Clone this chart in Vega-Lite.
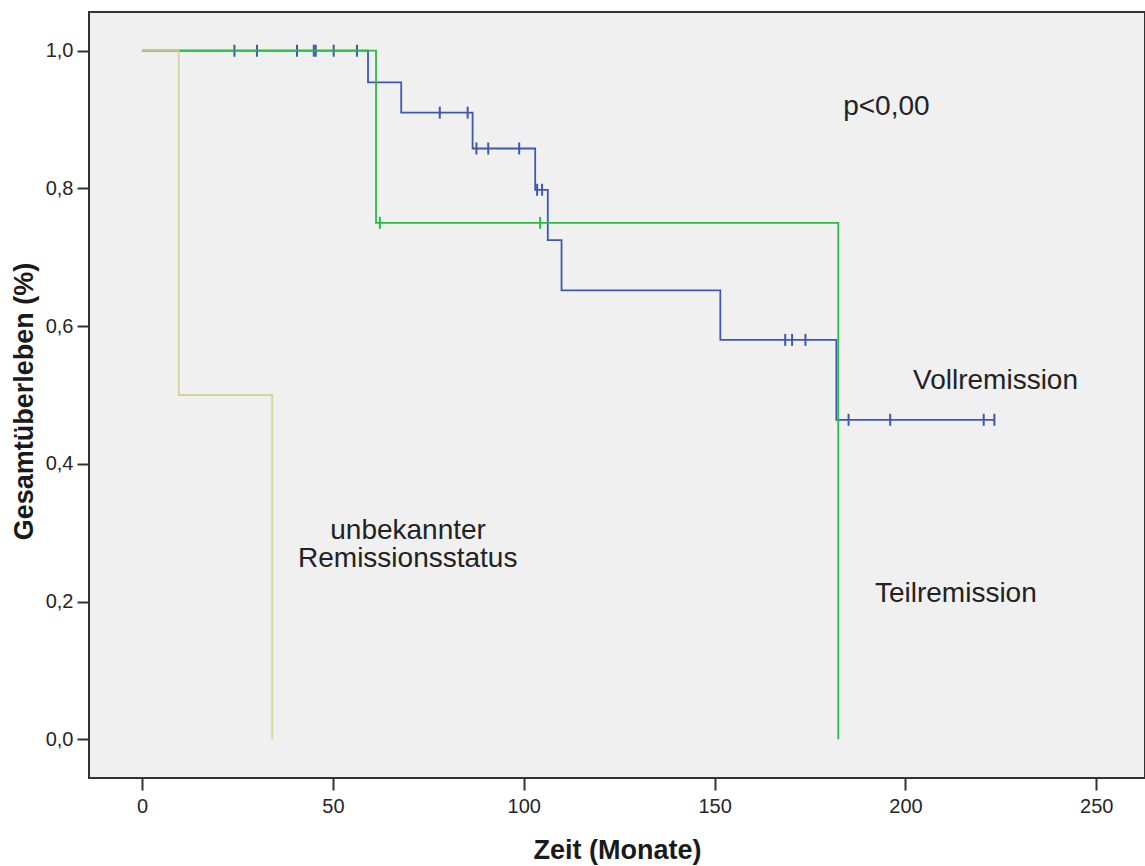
{
  "$schema": "https://vega.github.io/schema/vega-lite/v6.json",
  "width": 1056,
  "height": 766,
  "autosize": {"type": "none"},
  "padding": {"left": 89, "top": 12, "right": 0, "bottom": 88},
  "background": "white",
  "config": {
    "view": {"fill": "#f0f0f0", "stroke": "#333333", "strokeWidth": 2},
    "font": "Liberation Sans",
    "axis": {
      "grid": false,
      "domain": false,
      "tickColor": "#333333",
      "tickWidth": 2,
      "tickSize": 12,
      "labelFont": "Liberation Sans",
      "labelFontSize": 20,
      "labelColor": "#262626",
      "titleFont": "Liberation Sans",
      "titleFontSize": 27,
      "titleFontWeight": "bold",
      "titleColor": "#1a1a1a"
    }
  },
  "datasets": {
    "km": [
      {"gruppe": "Vollremission", "time": 0, "surv": 1.0},
      {"gruppe": "Vollremission", "time": 59.2, "surv": 0.954},
      {"gruppe": "Vollremission", "time": 67.9, "surv": 0.910},
      {"gruppe": "Vollremission", "time": 86.6, "surv": 0.858},
      {"gruppe": "Vollremission", "time": 103.0, "surv": 0.798},
      {"gruppe": "Vollremission", "time": 106.3, "surv": 0.725},
      {"gruppe": "Vollremission", "time": 109.9, "surv": 0.652},
      {"gruppe": "Vollremission", "time": 151.5, "surv": 0.580},
      {"gruppe": "Vollremission", "time": 181.9, "surv": 0.464},
      {"gruppe": "Vollremission", "time": 223.3, "surv": 0.464},
      {"gruppe": "Teilremission", "time": 0, "surv": 1.0},
      {"gruppe": "Teilremission", "time": 61.3, "surv": 0.75},
      {"gruppe": "Teilremission", "time": 182.4, "surv": 0.0},
      {"gruppe": "unbekannter Remissionsstatus", "time": 0, "surv": 1.0},
      {"gruppe": "unbekannter Remissionsstatus", "time": 9.6, "surv": 0.5},
      {"gruppe": "unbekannter Remissionsstatus", "time": 34.1, "surv": 0.0}
    ],
    "zensiert": [
      {"gruppe": "Vollremission", "time": 24.2, "surv": 1.0},
      {"gruppe": "Vollremission", "time": 30.1, "surv": 1.0},
      {"gruppe": "Vollremission", "time": 40.6, "surv": 1.0},
      {"gruppe": "Vollremission", "time": 45.0, "surv": 1.0},
      {"gruppe": "Vollremission", "time": 45.5, "surv": 1.0},
      {"gruppe": "Vollremission", "time": 50.2, "surv": 1.0},
      {"gruppe": "Vollremission", "time": 56.3, "surv": 1.0},
      {"gruppe": "Vollremission", "time": 78.0, "surv": 0.910},
      {"gruppe": "Vollremission", "time": 85.3, "surv": 0.910},
      {"gruppe": "Vollremission", "time": 87.6, "surv": 0.858},
      {"gruppe": "Vollremission", "time": 90.7, "surv": 0.858},
      {"gruppe": "Vollremission", "time": 98.8, "surv": 0.858},
      {"gruppe": "Vollremission", "time": 103.5, "surv": 0.798},
      {"gruppe": "Vollremission", "time": 104.8, "surv": 0.798},
      {"gruppe": "Vollremission", "time": 168.5, "surv": 0.580},
      {"gruppe": "Vollremission", "time": 170.3, "surv": 0.580},
      {"gruppe": "Vollremission", "time": 173.8, "surv": 0.580},
      {"gruppe": "Vollremission", "time": 185.1, "surv": 0.464},
      {"gruppe": "Vollremission", "time": 196.0, "surv": 0.464},
      {"gruppe": "Vollremission", "time": 220.5, "surv": 0.464},
      {"gruppe": "Vollremission", "time": 223.3, "surv": 0.464},
      {"gruppe": "Teilremission", "time": 62.3, "surv": 0.75},
      {"gruppe": "Teilremission", "time": 104.3, "surv": 0.75}
    ],
    "beschriftung": [
      {"label": "p<0,00", "time": 195.0, "surv": 0.9066},
      {"label": "Vollremission", "time": 223.6, "surv": 0.5083},
      {"label": "Teilremission", "time": 213.2, "surv": 0.199},
      {"label": "unbekannter", "time": 69.7, "surv": 0.2904},
      {"label": "Remissionsstatus", "time": 69.6, "surv": 0.2498}
    ]
  },
  "encoding": {
    "x": {
      "field": "time",
      "type": "quantitative",
      "scale": {"domain": [-13.9, 262.76], "nice": false, "zero": false},
      "axis": {
        "values": [0, 50, 100, 150, 200, 250],
        "title": "Zeit (Monate)",
        "labelPadding": 6,
        "titleBaseline": "alphabetic",
        "titleY": 80
      }
    },
    "y": {
      "field": "surv",
      "type": "quantitative",
      "scale": {"domain": [-0.0562, 1.0562], "nice": false, "zero": false},
      "axis": {
        "values": [0, 0.2, 0.4, 0.6, 0.8, 1.0],
        "labelExpr": "replace(format(datum.value, '.1f'), '.', ',')",
        "labelPadding": 4,
        "title": "Gesamtüberleben (%)",
        "titleBaseline": "alphabetic",
        "titleX": -57,
        "titleY": 389
      }
    },
    "color": {
      "field": "gruppe",
      "type": "nominal",
      "scale": {
        "domain": ["Vollremission", "Teilremission", "unbekannter Remissionsstatus"],
        "range": ["#3e58ac", "#2eb848", "#d3ce97"]
      },
      "legend": null
    }
  },
  "layer": [
    {
      "data": {"name": "km"},
      "transform": [{"filter": "datum.gruppe == 'Vollremission'"}],
      "mark": {"type": "line", "interpolate": "step-after", "strokeWidth": 1.8}
    },
    {
      "data": {"name": "zensiert"},
      "transform": [{"filter": "datum.gruppe == 'Vollremission'"}],
      "mark": {"type": "tick", "orient": "vertical", "size": 12, "thickness": 2, "opacity": 1}
    },
    {
      "data": {"name": "km"},
      "transform": [{"filter": "datum.gruppe == 'Teilremission'"}],
      "mark": {"type": "line", "interpolate": "step-after", "strokeWidth": 1.8}
    },
    {
      "data": {"name": "zensiert"},
      "transform": [{"filter": "datum.gruppe == 'Teilremission'"}],
      "mark": {"type": "tick", "orient": "vertical", "size": 12, "thickness": 2, "opacity": 1}
    },
    {
      "data": {"name": "km"},
      "transform": [{"filter": "datum.gruppe == 'unbekannter Remissionsstatus'"}],
      "mark": {"type": "line", "interpolate": "step-after", "strokeWidth": 1.8, "opacity": 0.9}
    },
    {
      "data": {"name": "beschriftung"},
      "mark": {"type": "text", "align": "center", "baseline": "alphabetic", "fontSize": 28, "font": "Liberation Sans", "color": "#222222"},
      "encoding": {
        "text": {"field": "label", "type": "nominal"},
        "color": {"value": "#222222"}
      }
    }
  ]
}
